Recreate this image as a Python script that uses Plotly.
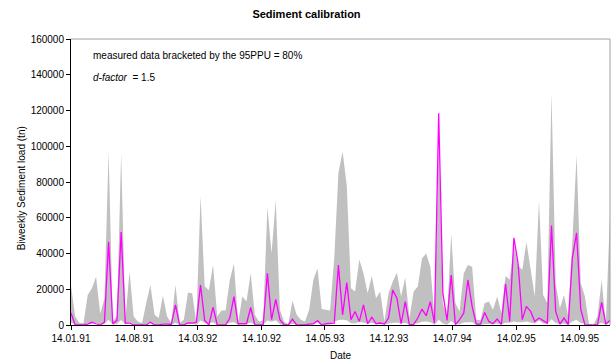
import pandas as pd
import plotly.graph_objects as go

start_date = "1991-01-14"
n_points = 130
dates = pd.date_range(start=start_date, periods=n_points, freq="14D")

measured = [6700, 0, 0, 0, 500, 1500, 700, 0, 1500, 46500,
            700, 2600, 52000, 1100, 1100, 0, 0, 0, 0, 1500,
            0, 0, 500, 500, 300, 11300, 0, 0, 1100, 1000,
            1500, 22400, 2500, 0, 10000, 0, 0, 0, 3900, 15900,
            700, 700, 700, 9800, 0, 0, 0, 28900, 3000, 14400,
            3000, 0, 0, 3300, 0, 0, 0, 500, 700, 2400,
            0, 700, 700, 1000, 33500, 5700, 23700, 3000, 7600, 2000,
            11300, 700, 4400, 700, 1100, 500, 3900, 19600, 15000, 700,
            13100, 0, 300, 3900, 8900, 5200, 13100, 1100, 118500, 17800,
            2600, 28000, 200, 3000, 6700, 25200, 10400, 500, 500, 7000,
            2000, 700, 3300, 300, 23000, 2000, 48800, 34400, 3000, 10400,
            7600, 2000, 3900, 2600, 1100, 55700, 7600, 500, 3900, 200,
            37700, 51600, 8900, 0, 0, 0, 0, 12600, 500, 2600]

upper = [22000, 4800, 1100, 1100, 16800, 20500, 27000, 6300, 15000, 97000,
         2000, 5000, 96000, 3000, 30000, 4800, 2000, 1000, 12200, 22400,
         5700, 3900, 16300, 4800, 1100, 22400, 1100, 3000, 18000, 17800,
         1100, 72300, 21500, 19600, 33500, 4800, 8100, 8100, 25200, 34400,
         1100, 15900, 13100, 28900, 5700, 2000, 2600, 66000, 40000, 70000,
         8500, 2000, 200, 13700, 5700, 3000, 2000, 8500, 25200, 31600,
         8900, 8500, 8100, 37200, 85000, 97000, 78000, 20500, 18700, 36600,
         28900, 17800, 27400, 15000, 18700, 2000, 17800, 24200, 29200, 15900,
         26600, 3900, 18700, 21500, 37200, 40000, 32600, 4800, 100000, 12000,
         4800, 51000, 12200, 7600, 28900, 33500, 32600, 3000, 2600, 12200,
         13100, 8500, 15900, 6700, 27400, 25500, 44600, 33500, 30700, 46400,
         29800, 15900, 69600, 16800, 12200, 130000, 23300, 9400, 16800, 4800,
         47400, 95000, 23300, 15900, 200, 200, 4800, 25200, 500, 62000]

lower = [1500, 200, 0, 0, 800, 1000, 1200, 300, 800, 3000,
         200, 400, 2800, 300, 1500, 300, 0, 0, 600, 1200,
         300, 200, 800, 200, 0, 1200, 0, 100, 900, 900,
         0, 2500, 1200, 1000, 1600, 200, 400, 400, 1200, 1700,
         0, 800, 700, 1400, 300, 0, 100, 2500, 1800, 2600,
         400, 0, 0, 700, 300, 100, 0, 400, 1200, 1500,
         400, 400, 400, 1800, 2800, 3000, 2700, 1000, 900, 1800,
         1400, 900, 1300, 700, 900, 100, 900, 1200, 1400, 800,
         1300, 200, 900, 1000, 1800, 2000, 1600, 200, 3000, 800,
         200, 2200, 600, 400, 1400, 1600, 1600, 100, 100, 600,
         700, 400, 800, 300, 1300, 1200, 2000, 1600, 1500, 2000,
         1400, 800, 2500, 800, 600, 3200, 1100, 500, 800, 200,
         2000, 3000, 1100, 800, 0, 0, 200, 1200, 0, 1500]

tick_dates = ["1991-01-14", "1991-08-14", "1992-03-14", "1992-10-14", "1993-05-14",
              "1993-12-14", "1994-07-14", "1995-02-14", "1995-09-14"]
tick_labels = ["14.01.91", "14.08.91", "14.03.92", "14.10.92", "14.05.93",
               "14.12.93", "14.07.94", "14.02.95", "14.09.95"]

FONT = "Liberation Sans, Arial, sans-serif"

fig = go.Figure()
fig.add_trace(go.Scatter(x=dates, y=lower, mode="lines", line=dict(width=0, color="#C0C0C0"),
                         showlegend=False, hoverinfo="skip"))
fig.add_trace(go.Scatter(x=dates, y=upper, mode="lines", line=dict(width=0, color="#C0C0C0"),
                         fill="tonexty", fillcolor="#C0C0C0", showlegend=False))
fig.add_trace(go.Scatter(x=dates, y=measured, mode="lines", line=dict(width=1.3, color="#FF00FF"),
                         showlegend=False))

fig.update_layout(
    width=613, height=362,
    margin=dict(l=71, r=3, t=39, b=37),
    paper_bgcolor="white", plot_bgcolor="white",
    font=dict(family=FONT, size=10, color="black"),
    title=dict(text="<b>Sediment calibration</b>", x=0.5, xref="container", xanchor="center",
               y=1 - 14 / 362, yref="container", yanchor="middle",
               font=dict(family=FONT, size=11, color="black")),
    xaxis=dict(type="date", range=[dates[0], dates[-1]], tickvals=tick_dates, ticktext=tick_labels,
               showgrid=False, zeroline=False, showline=True, linecolor="black", linewidth=1,
               ticks="outside", ticklen=4, tickcolor="black", tickfont=dict(size=10)),
    yaxis=dict(range=[0, 160000], dtick=20000, tickformat="d", showgrid=False, zeroline=False,
               showline=True, linecolor="black", linewidth=1, ticks="outside", ticklen=4,
               tickcolor="black", tickfont=dict(size=10)),
    shapes=[
        dict(type="line", xref="paper", yref="paper", x0=0, x1=1, y0=1, y1=1,
             line=dict(color="#A0A0A0", width=1), layer="above"),
        dict(type="line", xref="paper", yref="paper", x0=1, x1=1, y0=0, y1=1,
             line=dict(color="#A0A0A0", width=1), layer="above"),
    ],
    annotations=[
        dict(text="measured data bracketed by the 95PPU = 80%", xref="paper", yref="paper",
             x=0.038, y=(325 - 55) / 286, xanchor="left", yanchor="middle", showarrow=False,
             font=dict(size=10)),
        dict(text="<i>d-factor</i>  = 1.5", xref="paper", yref="paper",
             x=0.038, y=(325 - 77) / 286, xanchor="left", yanchor="middle", showarrow=False,
             font=dict(size=10)),
        dict(text="Biweekly Sediment load (tn)", xref="paper", yref="paper",
             x=(22 - 71.5) / 538.5, y=0.48, xanchor="center", yanchor="middle", textangle=-90,
             showarrow=False, font=dict(size=10)),
        dict(text="Date", xref="paper", yref="paper",
             x=0.5, y=(325 - 355) / 286, xanchor="center", yanchor="middle",
             showarrow=False, font=dict(size=10)),
    ],
)

fig.write_html("out.html")
